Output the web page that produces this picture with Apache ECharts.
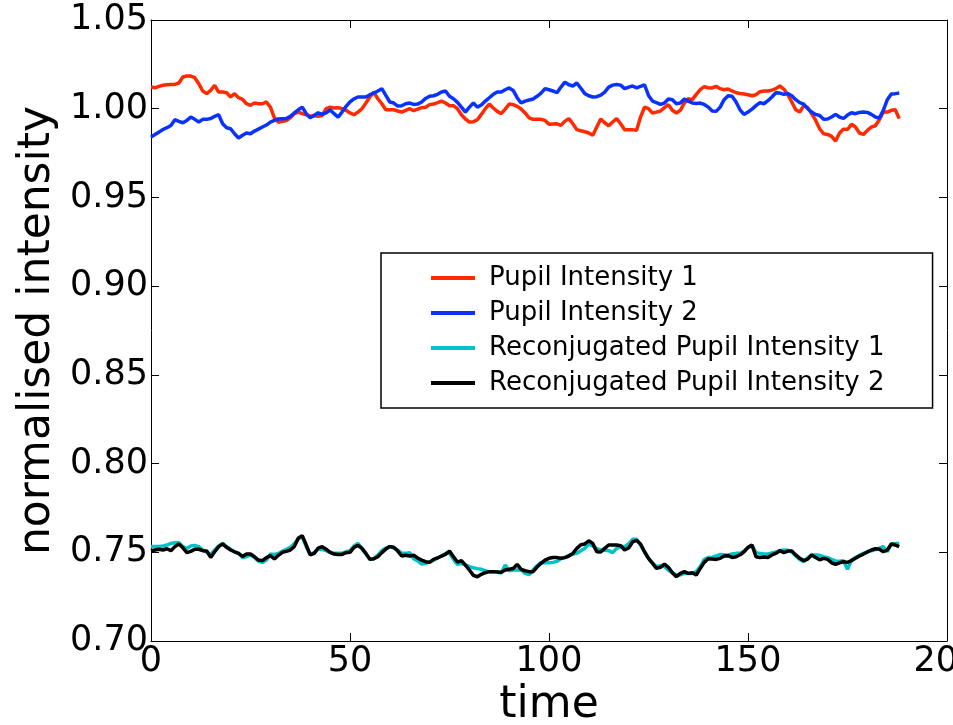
<!DOCTYPE html>
<html><head><meta charset="utf-8">
<script src="https://cdn.jsdelivr.net/npm/echarts@6/dist/echarts.min.js"></script>
<style>html,body{margin:0;padding:0;background:#fff}#c{width:953px;height:725px}</style>
</head><body><div id="c"></div>
<script>
const seriesNames = ['Pupil Intensity 1', 'Pupil Intensity 2', 'Reconjugated Pupil Intensity 1', 'Reconjugated Pupil Intensity 2'];
const seriesColors = ['#ff2a00', '#0a32ff', '#00c2c8', '#000000'];
const xTicks = [0, 50, 100, 150, 200];
const yTicks = [0.70, 0.75, 0.80, 0.85, 0.90, 0.95, 1.00, 1.05];

const pupil1 = [
1.0122,1.0118,1.0126,1.0132,1.0135,1.0137,1.0137,1.0145,1.0179,1.0184,
1.0184,1.0175,1.0141,1.0100,1.0085,1.0103,1.0132,1.0094,1.0094,1.0090,
1.0066,1.0085,1.0062,1.0053,1.0028,1.0019,1.0032,1.0028,1.0028,1.0038,
1.0009,0.9949,0.9924,0.9929,0.9934,0.9949,0.9972,0.9981,0.9972,0.9966,
0.9957,0.9962,0.9957,0.9962,1.0000,1.0009,1.0004,1.0006,1.0000,0.9991,
0.9976,0.9966,0.9981,1.0000,1.0032,1.0066,1.0094,1.0056,1.0028,0.9994,
0.9994,0.9994,0.9987,0.9981,0.9991,1.0000,
0.9989,0.9998,1.0006,1.0008,1.0023,1.0026,1.0034,1.0043,1.0032,1.0017,
1.0017,1.0000,0.9966,0.9942,0.9925,0.9927,0.9938,0.9968,1.0000,1.0026,
1.0004,0.9985,0.9972,0.9998,1.0026,1.0023,1.0013,0.9998,0.9976,0.9949,
0.9940,0.9940,0.9940,0.9934,0.9912,0.9914,0.9915,0.9906,0.9930,0.9944,
0.9915,0.9882,0.9876,0.9870,0.9863,0.9850,0.9897,0.9942,0.9921,0.9904,
0.9925,0.9944,0.9915,0.9882,0.9882,0.9882,0.9878,0.9953,1.0009,1.0000,
0.9976,0.9981,0.9987,1.0006,1.0023,0.9991,0.9976,
0.9991,1.0032,1.0056,1.0051,1.0081,1.0107,1.0124,1.0118,1.0117,1.0126,
1.0113,1.0107,1.0111,1.0100,1.0090,1.0086,1.0083,1.0079,1.0073,1.0079,
1.0096,1.0100,1.0100,1.0105,1.0113,1.0128,1.0111,1.0079,1.0038,0.9994,
0.9981,1.0017,1.0006,0.9972,0.9934,0.9887,0.9859,0.9855,0.9844,0.9818,
0.9863,0.9885,0.9883,0.9912,0.9897,0.9863,0.9855,0.9878,0.9897,0.9904,
0.9938,0.9981,0.9981,0.9991,0.9994,0.9944
];
const pupil2 = [
0.9840,0.9855,0.9868,0.9883,0.9893,0.9906,0.9938,0.9929,0.9921,0.9934,
0.9953,0.9940,0.9925,0.9940,0.9940,0.9945,0.9957,0.9966,0.9915,0.9893,
0.9887,0.9859,0.9835,0.9850,0.9863,0.9859,0.9874,0.9885,0.9897,0.9908,
0.9925,0.9934,0.9942,0.9944,0.9945,0.9957,0.9976,0.9994,1.0009,0.9972,
0.9949,0.9962,0.9977,0.9968,0.9976,0.9994,0.9972,0.9953,0.9981,1.0013,
1.0038,1.0056,1.0066,1.0066,1.0066,1.0079,1.0088,1.0100,1.0113,1.0075,
1.0038,1.0032,1.0015,1.0017,1.0028,1.0032,
1.0024,1.0026,1.0038,1.0058,1.0070,1.0073,1.0081,1.0094,1.0100,1.0070,
1.0056,1.0036,1.0009,0.9981,1.0009,1.0032,1.0009,1.0021,1.0043,1.0062,
1.0081,1.0094,1.0094,1.0107,1.0117,1.0103,1.0062,1.0032,1.0043,1.0049,
1.0055,1.0070,1.0088,1.0113,1.0107,1.0100,1.0090,1.0122,1.0150,1.0135,
1.0128,1.0145,1.0115,1.0085,1.0073,1.0066,1.0068,1.0077,1.0094,1.0122,
1.0133,1.0137,1.0133,1.0113,1.0122,1.0128,1.0118,1.0126,1.0135,1.0075,
1.0043,1.0034,1.0024,1.0032,1.0055,1.0051,1.0028,
1.0032,1.0055,1.0043,1.0032,1.0030,1.0032,1.0024,1.0009,0.9987,0.9985,
1.0009,1.0051,1.0073,1.0070,1.0038,0.9994,0.9968,0.9981,0.9998,1.0017,
1.0034,1.0028,1.0045,1.0066,1.0090,1.0088,1.0081,1.0085,1.0073,1.0051,
1.0034,1.0026,1.0000,0.9981,0.9968,0.9962,0.9940,0.9942,0.9953,0.9968,
0.9953,0.9945,0.9964,0.9977,0.9972,0.9979,0.9981,0.9979,0.9968,0.9953,
0.9947,0.9991,1.0051,1.0083,1.0085,1.0088
];
const reconj1 = [
0.7532,0.7532,0.7532,0.7535,0.7541,0.7550,0.7554,0.7554,0.7532,0.7522,
0.7535,0.7539,0.7532,0.7513,0.7500,0.7488,0.7513,0.7535,0.7550,0.7532,
0.7517,0.7502,0.7494,0.7471,0.7475,0.7485,0.7471,0.7449,0.7443,0.7456,
0.7490,0.7488,0.7494,0.7505,0.7517,0.7528,0.7547,0.7577,0.7588,0.7532,
0.7488,0.7498,0.7517,0.7517,0.7509,0.7500,0.7494,0.7494,0.7494,0.7503,
0.7509,0.7535,0.7550,0.7522,0.7490,0.7460,0.7464,0.7485,0.7509,0.7524,
0.7532,0.7524,0.7513,0.7494,0.7494,0.7498,
0.7464,0.7451,0.7434,0.7438,0.7445,0.7456,0.7468,0.7479,0.7494,0.7494,
0.7460,0.7432,0.7436,0.7430,0.7419,0.7413,0.7408,0.7404,0.7396,0.7391,
0.7391,0.7389,0.7383,0.7428,0.7396,0.7400,0.7400,0.7400,0.7381,0.7374,
0.7400,0.7424,0.7443,0.7441,0.7441,0.7443,0.7449,0.7464,0.7471,0.7483,
0.7490,0.7494,0.7509,0.7522,0.7547,0.7535,0.7520,0.7513,0.7511,0.7509,
0.7498,0.7522,0.7532,0.7532,0.7547,0.7573,0.7573,0.7541,0.7503,0.7466,
0.7441,0.7419,0.7424,0.7419,0.7400,0.7385,0.7372,
0.7372,0.7381,0.7381,0.7381,0.7391,0.7419,0.7460,0.7470,0.7471,0.7479,
0.7488,0.7486,0.7485,0.7490,0.7494,0.7494,0.7505,0.7526,0.7539,0.7498,
0.7494,0.7490,0.7490,0.7496,0.7502,0.7509,0.7513,0.7511,0.7503,0.7479,
0.7460,0.7447,0.7470,0.7485,0.7485,0.7483,0.7475,0.7470,0.7460,0.7451,
0.7449,0.7453,0.7404,0.7456,0.7471,0.7483,0.7494,0.7502,0.7509,0.7515,
0.7524,0.7532,0.7503,0.7547,0.7550,0.7550
];
const reconj2 = [
0.7507,0.7513,0.7517,0.7513,0.7520,0.7509,0.7532,0.7547,0.7526,0.7498,
0.7505,0.7517,0.7517,0.7509,0.7507,0.7471,0.7503,0.7532,0.7547,0.7528,
0.7513,0.7503,0.7494,0.7477,0.7490,0.7490,0.7475,0.7456,0.7453,0.7470,
0.7481,0.7462,0.7483,0.7500,0.7505,0.7513,0.7532,0.7579,0.7594,0.7541,
0.7485,0.7494,0.7524,0.7532,0.7517,0.7500,0.7490,0.7488,0.7488,0.7498,
0.7500,0.7528,0.7539,0.7522,0.7494,0.7460,0.7464,0.7475,0.7498,0.7518,
0.7532,0.7528,0.7507,0.7479,0.7483,0.7479,
0.7483,0.7468,0.7456,0.7447,0.7443,0.7460,0.7468,0.7479,0.7488,0.7507,
0.7475,0.7445,0.7453,0.7428,0.7400,0.7370,0.7362,0.7376,0.7385,0.7391,
0.7391,0.7389,0.7387,0.7400,0.7404,0.7409,0.7432,0.7404,0.7396,0.7391,
0.7391,0.7417,0.7438,0.7456,0.7466,0.7471,0.7470,0.7466,0.7470,0.7479,
0.7494,0.7522,0.7543,0.7547,0.7565,0.7550,0.7503,0.7502,0.7522,0.7541,
0.7541,0.7541,0.7537,0.7513,0.7524,0.7558,0.7567,0.7547,0.7503,0.7466,
0.7438,0.7409,0.7415,0.7434,0.7415,0.7385,0.7362,
0.7381,0.7391,0.7381,0.7385,0.7372,0.7409,0.7443,0.7464,0.7462,0.7460,
0.7466,0.7479,0.7481,0.7471,0.7475,0.7486,0.7503,0.7528,0.7541,0.7475,
0.7471,0.7473,0.7471,0.7485,0.7494,0.7509,0.7498,0.7507,0.7507,0.7485,
0.7466,0.7453,0.7462,0.7485,0.7471,0.7458,0.7466,0.7460,0.7441,0.7432,
0.7441,0.7447,0.7443,0.7453,0.7466,0.7479,0.7490,0.7502,0.7513,0.7520,
0.7517,0.7503,0.7513,0.7547,0.7541,0.7532
];
const allValues = [pupil1, pupil2, reconj1, reconj2];

const FONT = 'DejaVu Sans';
const chart = echarts.init(document.getElementById('c'), null, {renderer: 'canvas'});

const xCommon = {
  type: 'value', min: xTicks[0], max: xTicks[xTicks.length - 1], interval: xTicks[1] - xTicks[0],
  splitLine: {show: false},
  axisLine: {show: true, onZero: false, lineStyle: {color: '#000', width: 1}},
  axisTick: {show: true, inside: true, length: 8, lineStyle: {color: '#000', width: 1}}
};
const yCommon = {
  type: 'value', min: yTicks[0], max: yTicks[yTicks.length - 1], interval: 0.05,
  splitLine: {show: false},
  axisLine: {show: true, onZero: false, lineStyle: {color: '#000', width: 1}},
  axisTick: {show: true, inside: true, length: 8, lineStyle: {color: '#000', width: 1}}
};

chart.setOption({
  animation: false,
  backgroundColor: '#fff',
  grid: {left: 151, right: 6, top: 20, bottom: 84, show: false, containLabel: false, outerBoundsMode: 'none'},
  xAxis: [
    Object.assign({}, xCommon, {
      position: 'bottom',
      name: 'time', nameLocation: 'middle', nameGap: 40,
      nameTextStyle: {fontFamily: FONT, fontSize: 44, color: '#000'},
      axisLabel: {show: true, margin: 3, fontFamily: FONT, fontSize: 35, color: '#000',
        formatter: v => String(v)}
    }),
    Object.assign({}, xCommon, {position: 'top', axisLabel: {show: false}})
  ],
  yAxis: [
    Object.assign({}, yCommon, {
      position: 'left',
      name: 'normalised intensity', nameLocation: 'middle', nameGap: 72, nameRotate: 90,
      nameTextStyle: {fontFamily: FONT, fontSize: 44, color: '#000'},
      axisLabel: {show: true, margin: 3, fontFamily: FONT, fontSize: 35, color: '#000',
        formatter: v => v.toFixed(2)}
    }),
    Object.assign({}, yCommon, {position: 'right', axisLabel: {show: false}})
  ],
  legend: {
    orient: 'vertical', left: 381, top: 253,
    padding: [12, 48, 12, 50],
    icon: 'rect',
    itemWidth: 44, itemHeight: 4, itemGap: 9,
    borderColor: '#000', borderWidth: 1.5, borderRadius: 0,
    backgroundColor: '#fff',
    textStyle: {fontFamily: FONT, fontSize: 26, color: '#000', lineHeight: 26, padding: [0, 0, 0, 9]},
    data: seriesNames
  },
  series: seriesNames.map((name, k) => ({
    name: name, type: 'line', xAxisIndex: 0, yAxisIndex: 0,
    symbol: 'none', showSymbol: false, smooth: false,
    color: seriesColors[k],
    lineStyle: {color: seriesColors[k], width: 3.5},
    data: allValues[k].map((v, i) => [i, v]),
    z: 2 + k
  }))
});
</script></body></html>
